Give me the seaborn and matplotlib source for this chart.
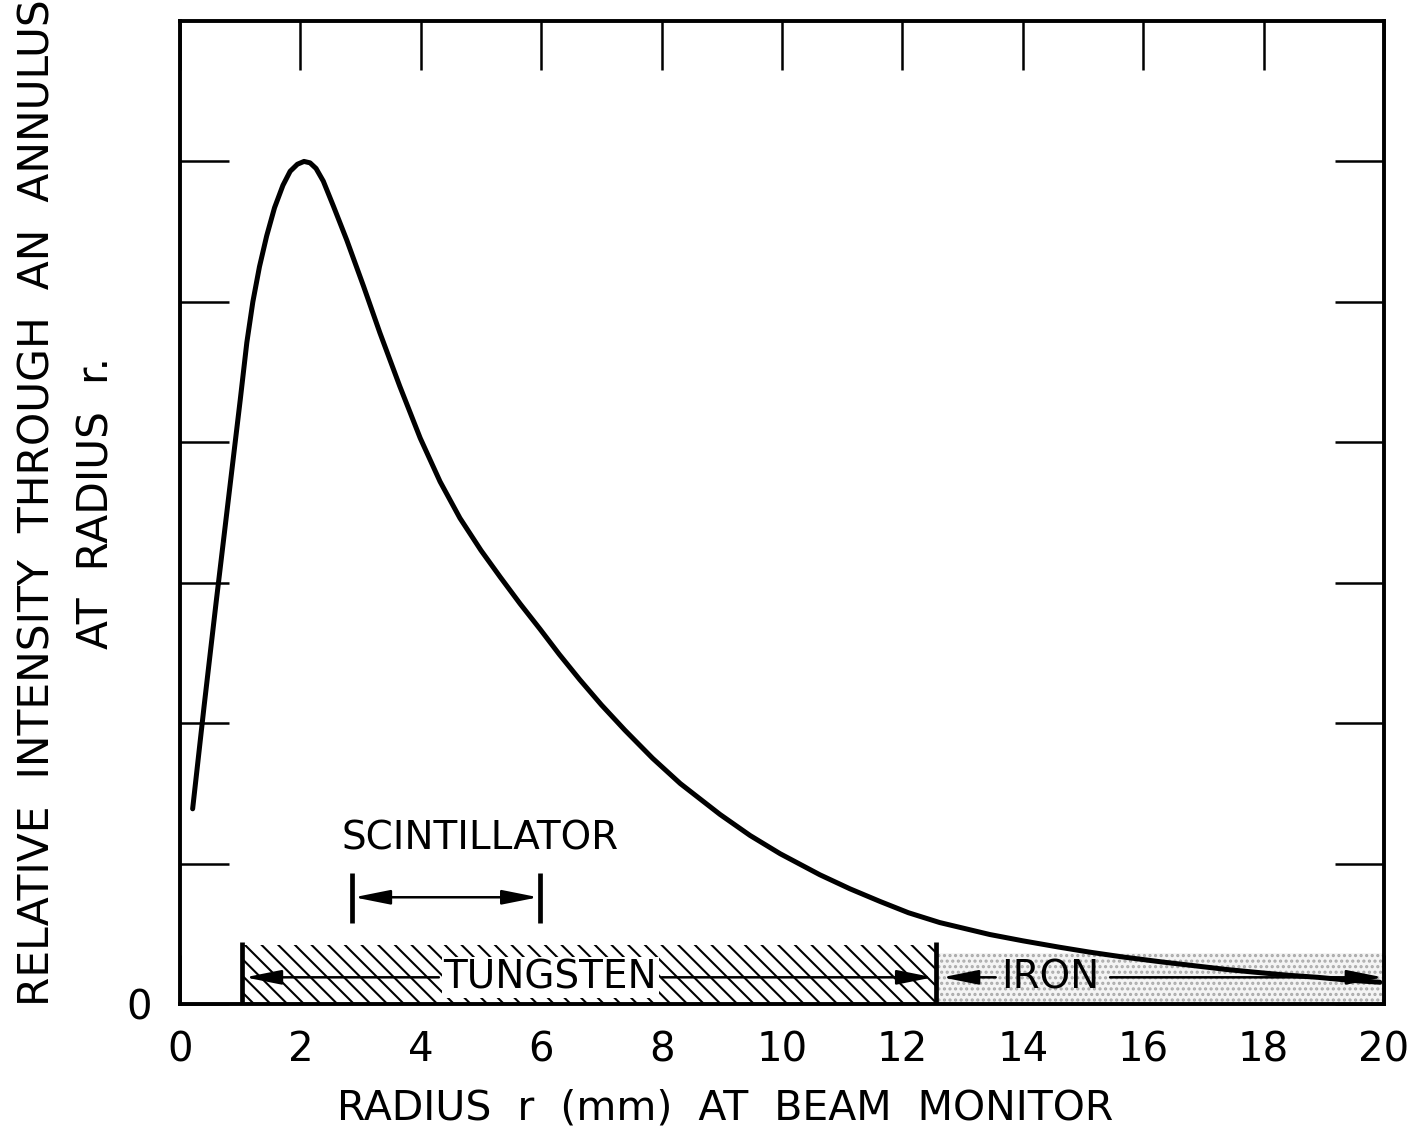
import numpy as np
import pandas as pd
import matplotlib
matplotlib.use("Agg")
import matplotlib.pyplot as plt
import seaborn as sns

# ---- data ----
radius_mm = [0.21, 0.40, 0.60, 0.80, 1.00, 1.11, 1.21, 1.32, 1.44, 1.57, 1.71, 1.83,
             1.95, 2.06, 2.16, 2.26, 2.38, 2.55, 2.77, 3.05, 3.32, 3.65, 3.99, 4.32,
             4.65, 5.00, 5.32, 5.65, 5.98, 6.30, 6.64, 7.00, 7.39, 7.85, 8.31, 8.97,
             9.47, 9.97, 10.63, 11.13, 11.63, 12.10, 12.62, 13.45, 14.00, 14.60,
             15.10, 15.66, 16.30, 16.90, 17.40, 17.89, 18.40, 18.90, 19.40, 19.93]
intensity = [1.39, 2.12, 2.86, 3.58, 4.30, 4.71, 5.00, 5.25, 5.47, 5.67, 5.83, 5.93,
             5.98, 6.00, 5.99, 5.95, 5.86, 5.68, 5.44, 5.11, 4.78, 4.40, 4.03, 3.72,
             3.46, 3.23, 3.04, 2.85, 2.67, 2.49, 2.31, 2.13, 1.95, 1.75, 1.57, 1.35,
             1.20, 1.07, 0.92, 0.82, 0.73, 0.65, 0.58, 0.495, 0.45, 0.405,
             0.37, 0.335, 0.30, 0.27, 0.245, 0.225, 0.205, 0.19, 0.17, 0.155]

x_ticks = [0, 2, 4, 6, 8, 10, 12, 14, 16, 18, 20]
x_tick_labels = ["0", "2", "4", "6", "8", "10", "12", "14", "16", "18", "20"]
y_ticks = [0, 1, 2, 3, 4, 5, 6]
y_tick_labels = ["0", "", "", "", "", "", ""]

tungsten_range = [1.03, 12.56]
iron_range = [12.56, 20.0]
scint_range = [2.86, 5.98]
region_labels = ["TUNGSTEN", "IRON", "SCINTILLATOR"]

df = pd.DataFrame({"r": radius_mm, "I": intensity})

sns.set_style("ticks")
plt.rcParams["font.family"] = ["DejaVu Sans"]
plt.rcParams.update({
    "hatch.linewidth": 1.5,
    "text.color": "black",
    "axes.labelcolor": "black",
    "axes.edgecolor": "black",
    "xtick.color": "black",
    "ytick.color": "black",
})

fig = plt.figure(figsize=(14.11, 11.3), dpi=100)
ax = fig.add_axes([180 / 1411, 1 - 1004 / 1130, 1204 / 1411, 983 / 1130])

# shaded regions
ax.fill_between(tungsten_range, 0, 0.42, facecolor="white", edgecolor="black",
                hatch="\\\\", linewidth=0, zorder=1)
ax.fill_between(iron_range, 0, 0.36, facecolor="#f4f4f4", edgecolor="#aaaaaa",
                hatch="...", linewidth=0, zorder=1)

# curve
sns.lineplot(data=df, x="r", y="I", ax=ax, color="black", linewidth=3.6,
             sort=False, zorder=5, solid_joinstyle="round", solid_capstyle="round")

fs = 28
# material boundaries
for xb in tungsten_range:
    ax.plot([xb, xb], [0, 0.44], color="black", lw=3.4, solid_capstyle="butt", zorder=4)

arrow_kw = dict(arrowstyle="-|>,head_length=1.1,head_width=0.22", color="black",
                lw=1.8, shrinkA=0, shrinkB=0, mutation_scale=20)
y_row = 0.19
ax.text(6.15, y_row, region_labels[0], fontsize=fs, ha="center", va="center",
        zorder=6, bbox=dict(facecolor="white", edgecolor="none", pad=1))
ax.annotate("", xy=(tungsten_range[0] + 0.05, y_row), xytext=(4.3, y_row),
            arrowprops=arrow_kw, zorder=6)
ax.annotate("", xy=(tungsten_range[1] - 0.05, y_row), xytext=(8.0, y_row),
            arrowprops=arrow_kw, zorder=6)

ax.text(14.45, y_row, region_labels[1], fontsize=fs, ha="center", va="center", zorder=6)
ax.annotate("", xy=(iron_range[0] + 0.1, y_row), xytext=(13.55, y_row),
            arrowprops=arrow_kw, zorder=6)
ax.annotate("", xy=(iron_range[1] - 0.02, y_row), xytext=(15.45, y_row),
            arrowprops=arrow_kw, zorder=6)

# scintillator bracket
for xb in scint_range:
    ax.plot([xb, xb], [0.58, 0.93], color="black", lw=3.4, solid_capstyle="butt")
ax.annotate("", xy=(scint_range[0] + 0.03, 0.76), xytext=(scint_range[1] - 0.03, 0.76),
            arrowprops=dict(arrowstyle="<|-|>,head_length=1.1,head_width=0.22",
                            color="black", lw=1.8, shrinkA=0, shrinkB=0,
                            mutation_scale=20))
ax.text(4.98, 1.18, region_labels[2], fontsize=fs, ha="center", va="center")

# axes styling
ax.set_xlim(0, 20)
ax.set_ylim(0, 7.0)
ax.set_xticks(x_ticks)
ax.set_xticklabels(x_tick_labels, fontsize=29)
ax.set_yticks(y_ticks)
ax.set_yticklabels(y_tick_labels, fontsize=29)
ax.tick_params(axis="both", direction="in", length=35, width=1.8,
               top=True, right=True, labeltop=False, labelright=False)
ax.tick_params(axis="x", pad=19)
ax.tick_params(axis="y", pad=20)
for s in ax.spines.values():
    s.set_linewidth(2.8)
    s.set_visible(True)

ax.set_xlabel("RADIUS  r  (mm)  AT  BEAM  MONITOR", fontsize=29.5, va="center")
ax.xaxis.set_label_coords(0.453, -0.106)
ax.set_ylabel("RELATIVE  INTENSITY  THROUGH  AN  ANNULUS\nAT  RADIUS  r.",
              fontsize=30.5, va="center", ha="center", linespacing=1.5)
ax.yaxis.set_label_coords(-0.094, 0.51)

fig.savefig("out.png", dpi=100, facecolor="white")
